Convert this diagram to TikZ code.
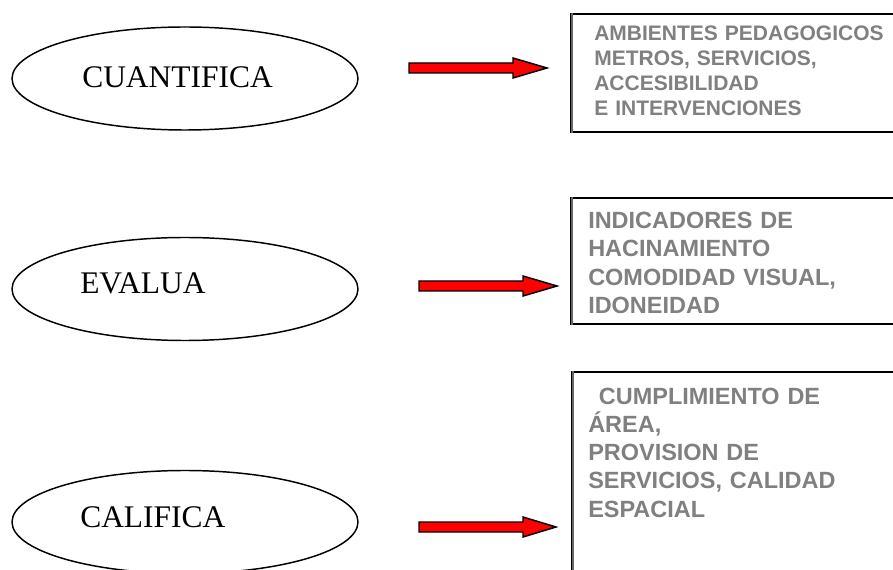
\documentclass[tikz,border=0pt]{standalone}
\usepackage{fontspec}
\setmainfont{Liberation Serif}
\newfontfamily\boxfont{Liberation Sans}
\usetikzlibrary{shapes.geometric,calc}
\definecolor{txtgray}{RGB}{128,128,128}
\definecolor{arrred}{RGB}{255,0,0}
\tikzset{
  oval/.style={ellipse,draw=black,line width=1.1pt,minimum width=259.5pt,minimum height=77.25pt,inner sep=0pt},
  ovaltext/.style={anchor=base west,inner sep=0pt,font=\fontsize{23.6}{28}\selectfont},
  panel/.style={draw=black,line width=1.5pt,anchor=north west,inner sep=0pt,minimum width=255pt},
  smalltext/.style={anchor=base west,inner sep=0pt,text width=240pt,align=left,text=txtgray,font=\boxfont\bfseries\fontsize{15.75}{18.75}\selectfont},
  bigtext/.style={anchor=base west,inner sep=0pt,text width=240pt,align=left,text=txtgray,font=\boxfont\bfseries\fontsize{17.6}{21.2}\selectfont},
  blockarrow/.style={draw=black,fill=arrred,line width=1.1pt,line join=miter}
}
\begin{document}
\begin{tikzpicture}[x=0.75pt,y=-0.75pt]
\clip (0,0) rectangle (893,570);
\fill[white] (0,0) rectangle (893,570);

% ellipses
\node[oval] (e1) at (185,78.5) {};
\node[oval] (e2) at (185,289) {};
\node[oval] (e3) at (185,522) {};
\node[ovaltext] (l1) at (82,88) {CUANTIFICA};
\node[ovaltext] (l2) at (80,294) {EVALUA};
\node[ovaltext] (l3) at (80,527) {CALIFICA};

% boxes
\node[panel,minimum height=88.5pt] (b1) at (570,13) {};
\node[panel,minimum height=94.5pt] (b2) at (570,197) {};
\node[panel,minimum height=160pt] (b3) at (571,371) {};
\draw[line width=1pt,black!60] ([xshift=1.6pt]b1.north west) -- ([xshift=1.6pt]b1.south west);
\draw[line width=1pt,black!60] ([xshift=1.6pt]b2.north west) -- ([xshift=1.6pt]b2.south west);
\draw[line width=1pt,black!60] ([xshift=1.6pt]b3.north west) -- ([xshift=1.6pt]b3.south west);

\node[smalltext] (t1) at (594,41) {AMBIENTES PEDAGOGICOS\\METROS, SERVICIOS,\\ACCESIBILIDAD\\E INTERVENCIONES};
\node[bigtext] (t2) at (588,228.5) {INDICADORES DE\\HACINAMIENTO\\COMODIDAD VISUAL,\\IDONEIDAD};
\node[bigtext] (t3) at (588,404) {\hspace*{8pt}CUMPLIMIENTO DE\\ÁREA,\\PROVISION DE\\SERVICIOS, CALIDAD\\ESPACIAL};

% arrows
\coordinate (a1s) at (409,68);
\coordinate (a1h) at (513,68);
\coordinate (a1t) at (547,68);
\coordinate (a2s) at (419,286);
\coordinate (a2h) at (523,286);
\coordinate (a2t) at (557,286);
\coordinate (a3s) at (419,527);
\coordinate (a3h) at (523,527);
\coordinate (a3t) at (556,527);
\foreach \a in {a1,a2,a3}{
  \draw[blockarrow] ($(\a s)+(0,-5)$) -- ($(\a h)+(0,-5)$) -- ($(\a h)+(0,-10)$) -- (\a t)
    -- ($(\a h)+(0,10)$) -- ($(\a h)+(0,5)$) -- ($(\a s)+(0,5)$) -- cycle;
}
\end{tikzpicture}
\end{document}
